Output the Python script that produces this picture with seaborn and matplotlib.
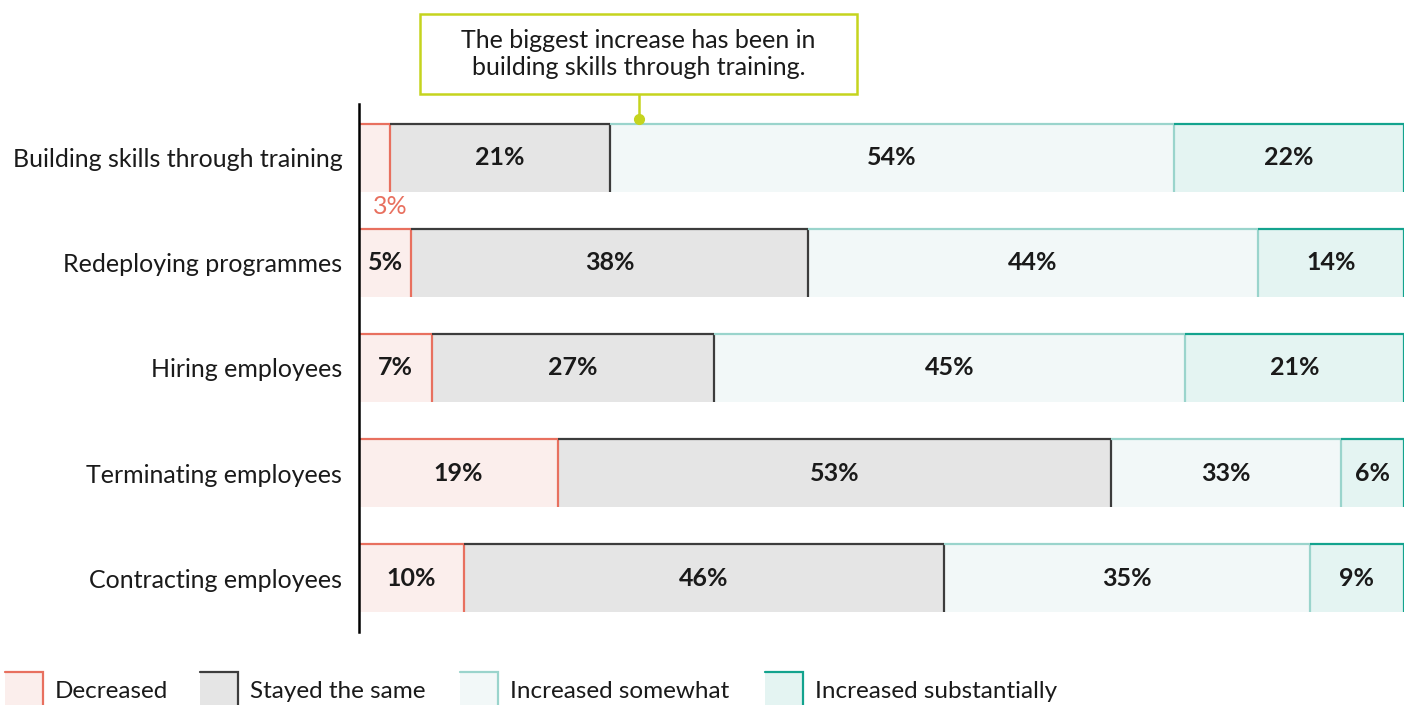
import numpy as np
import pandas as pd
import matplotlib
matplotlib.use("Agg")
import matplotlib.pyplot as plt
from matplotlib.patches import Rectangle
import seaborn as sns

# ---- data -------------------------------------------------------------
categories = [
    "Building skills through training",
    "Redeploying programmes",
    "Hiring employees",
    "Terminating employees",
    "Contracting employees",
]
series_names = ["Decreased", "Stayed the same", "Increased somewhat", "Increased substantially"]
decreased = [3, 5, 7, 19, 10]
stayed_same = [21, 38, 27, 53, 46]
increased_somewhat = [54, 44, 45, 33, 35]
increased_substantially = [22, 14, 21, 6, 9]

annotation_text = "The biggest increase has been in\nbuilding skills through training."

# ---- style ------------------------------------------------------------
fill_colors = ["#FBEEEC", "#E5E5E5", "#F2F8F8", "#E4F4F2"]
edge_colors = ["#E8705F", "#3C3C3C", "#9AD4CC", "#13A38E"]
note_color = "#C5D41E"
text_color = "#1A1A1A"

sns.set_theme(style="white")
plt.rcParams["font.family"] = ["Lato", "DejaVu Sans"]

W, H = 1411, 705
fig = plt.figure(figsize=(W / 100, H / 100), dpi=100)
ax = fig.add_axes([359 / W, 1 - 632 / H, (1404 - 359) / W, (632 - 104) / H])

values = [np.array(v, dtype=float) for v in
          (decreased, stayed_same, increased_somewhat, increased_substantially)]

# first three answers stack from the left; "increased substantially" sits at the right edge
lefts = [
    np.zeros(len(categories)),
    values[0],
    values[0] + values[1],
    100 - values[3],
]

bar_h = 0.648
for i, name in enumerate(series_names):
    df = pd.DataFrame({"category": categories, "value": values[i]})
    sns.barplot(
        data=df, x="value", y="category", order=categories, orient="h",
        color=fill_colors[i], saturation=1, width=bar_h, errorbar=None,
        left=lefts[i], linewidth=0, zorder=2 + i, ax=ax,
    )

ax.set_xlim(0, 100)
ax.set_ylim(len(categories) - 1 + 0.514, -0.514)

# top and right borders of every segment
for i in range(len(series_names)):
    for j in range(len(categories)):
        start = lefts[i][j]
        end = min(start + values[i][j], 100)
        if i == 2:
            end = min(end, lefts[3][j])
        top = j - bar_h / 2
        bottom = j + bar_h / 2
        ax.plot([start, end], [top, top], color=edge_colors[i], lw=1.6,
                solid_capstyle="butt", zorder=10)
        ax.plot([end, end], [top, bottom], color=edge_colors[i], lw=1.6,
                solid_capstyle="butt", zorder=10)

        # value labels
        cx = (start + end) / 2
        label = f"{values[i][j]:.0f}%"
        if values[i][j] < 4:
            ax.text(start + values[i][j], bottom + 0.14, label, ha="center", va="center",
                    fontsize=18, color=edge_colors[i], zorder=11, clip_on=False)
        else:
            ax.text(cx, j, label, ha="center", va="center", fontsize=18,
                    fontweight="bold", color=text_color, zorder=11)

# axes cosmetics
for side in ("top", "right", "bottom"):
    ax.spines[side].set_visible(False)
ax.spines["left"].set_color("black")
ax.spines["left"].set_linewidth(1.8)
ax.spines["left"].set_zorder(12)
ax.set_xticks([])
ax.set_xlabel("")
ax.set_ylabel("")
ax.tick_params(axis="y", length=0, pad=12, labelsize=18, labelcolor=text_color)

# callout box
box_x0, box_x1 = 5.84, 47.66
box_y0, box_y1 = -1.371, -0.609
ax.add_patch(Rectangle((box_x0, box_y0), box_x1 - box_x0, box_y1 - box_y0,
                       facecolor="white", edgecolor=note_color, lw=1.8,
                       clip_on=False, zorder=20))
mid_x = (box_x0 + box_x1) / 2
ax.text(mid_x, (box_y0 + box_y1) / 2, annotation_text, ha="center", va="center",
        fontsize=18, color=text_color, linespacing=1.2, zorder=21, clip_on=False)
ax.plot([mid_x, mid_x], [box_y1, -0.37], color=note_color, lw=1.8, clip_on=False, zorder=19)
ax.plot([mid_x], [-0.37], "o", color=note_color, ms=7, clip_on=False, zorder=19)

# legend drawn along the bottom edge
def fx(x):
    return x / W

def fy(y):
    return 1 - y / H

legend_x = [5, 200, 460, 765]
for i, name in enumerate(series_names):
    x0 = legend_x[i]
    fig.patches.append(Rectangle((fx(x0), fy(712)), 38 / W, 40 / H,
                                 transform=fig.transFigure, facecolor=fill_colors[i],
                                 edgecolor="none", zorder=1))
    fig.lines.append(plt.Line2D([fx(x0), fx(x0 + 38), fx(x0 + 38)],
                                [fy(672), fy(672), fy(712)],
                                transform=fig.transFigure, color=edge_colors[i],
                                lw=1.6, solid_joinstyle="miter"))
    fig.text(fx(x0 + 50), fy(692), name, ha="left", va="center", fontsize=17.5,
             color=text_color)

fig.savefig("out.png", dpi=100, facecolor="white")
